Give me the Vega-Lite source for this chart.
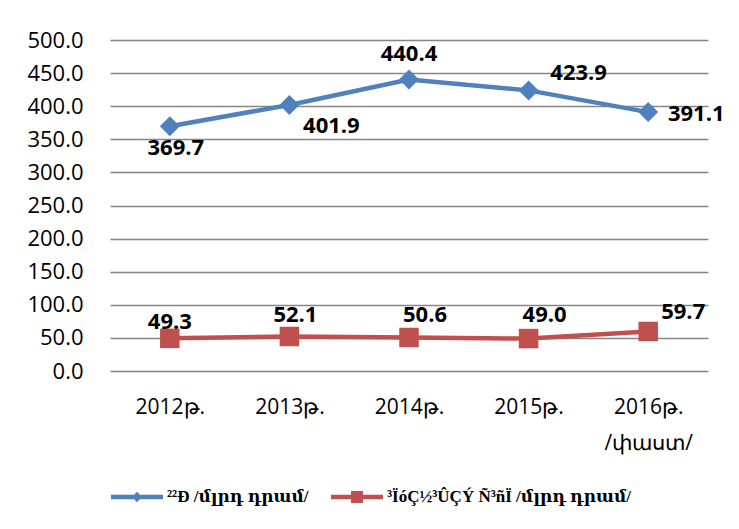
{
  "$schema": "https://vega.github.io/schema/vega-lite/v6.json",
  "width": 598,
  "height": 331,
  "autosize": "none",
  "padding": {"left": 110, "top": 40, "right": 31, "bottom": 158},
  "background": "white",
  "config": {
    "view": {"stroke": null},
    "font": "Open Sans"
  },
  "data": {
    "values": [
      {"year": "2012թ.", "series": "²²Ð /մլրդ դրամ/", "value": 369.7},
      {"year": "2013թ.", "series": "²²Ð /մլրդ դրամ/", "value": 401.9},
      {"year": "2014թ.", "series": "²²Ð /մլրդ դրամ/", "value": 440.4},
      {"year": "2015թ.", "series": "²²Ð /մլրդ դրամ/", "value": 423.9},
      {"year": "2016թ.|/փաստ/", "series": "²²Ð /մլրդ դրամ/", "value": 391.1},
      {"year": "2012թ.", "series": "³ÏóÇ½³ÛÇÝ Ñ³ñÏ /մլրդ դրամ/", "value": 49.3},
      {"year": "2013թ.", "series": "³ÏóÇ½³ÛÇÝ Ñ³ñÏ /մլրդ դրամ/", "value": 52.1},
      {"year": "2014թ.", "series": "³ÏóÇ½³ÛÇÝ Ñ³ñÏ /մլրդ դրամ/", "value": 50.6},
      {"year": "2015թ.", "series": "³ÏóÇ½³ÛÇÝ Ñ³ñÏ /մլրդ դրամ/", "value": 49.0},
      {"year": "2016թ.|/փաստ/", "series": "³ÏóÇ½³ÛÇÝ Ñ³ñÏ /մլրդ դրամ/", "value": 59.7}
    ]
  },
  "encoding": {
    "x": {
      "field": "year", "type": "nominal", "sort": null,
      "scale": {"paddingInner": 0, "paddingOuter": 0},
      "axis": {
        "title": null, "labelAngle": 0, "domain": false, "ticks": false,
        "labelPadding": 25, "labelFontSize": 21, "labelColor": "#000000",
        "labelFont": "Open Sans", "labelLineHeight": 36,
        "labelExpr": "split(datum.label, '|')"
      }
    },
    "y": {
      "field": "value", "type": "quantitative",
      "scale": {"domain": [0, 500], "nice": false},
      "axis": {
        "title": null, "values": [0, 50, 100, 150, 200, 250, 300, 350, 400, 450, 500],
        "format": ".1f", "domain": false, "ticks": false, "labelPadding": 27,
        "labelFontSize": 22, "labelColor": "#000000", "labelFont": "Open Sans",
        "gridColor": "#868686", "gridWidth": 1.5
      }
    }
  },
  "layer": [
    {
      "mark": {"type": "line", "strokeWidth": 4.5},
      "encoding": {
        "color": {
          "field": "series", "type": "nominal",
          "scale": {"domain": ["²²Ð /մլրդ դրամ/", "³ÏóÇ½³ÛÇÝ Ñ³ñÏ /մլրդ դրամ/"], "range": ["#4F81BD", "#C0504D"]},
          "legend": {
            "title": null, "orient": "none", "legendX": 1, "legendY": 431,
            "direction": "horizontal", "symbolSize": 2704, "symbolStrokeWidth": 0,
            "labelFont": "Liberation Serif, DejaVu Serif", "labelFontWeight": "bold", "labelFontSize": 17,
            "labelColor": "#000000", "labelOffset": 4, "columnPadding": 22, "labelLimit": 400,
            "encode": {
              "symbols": {
                "update": {
                  "shape": {"signal": "datum.value == '²²Ð /մլրդ դրամ/' ? 'M-1,-0.09H1V0.09H-1Z M0,-0.2L0.2,0L0,0.2L-0.2,0Z' : 'M-1,-0.09H1V0.09H-1Z M-0.23,-0.23H0.23V0.23H-0.23Z'"},
                  "fill": {"signal": "datum.value == '²²Ð /մլրդ դրամ/' ? '#4F81BD' : '#C0504D'"},
                  "strokeWidth": {"value": 0},
                  "opacity": {"value": 1}
                }
              }
            }
          }
        }
      }
    },
    {
      "transform": [{"filter": "datum.value > 200"}],
      "mark": {"type": "point", "filled": true, "opacity": 1, "size": 400, "shape": "diamond", "color": "#4F81BD"}
    },
    {
      "transform": [{"filter": "datum.value < 200"}],
      "mark": {"type": "point", "filled": true, "opacity": 1, "size": 380, "shape": "square", "color": "#C0504D"}
    },
    {
      "transform": [{"filter": "datum.year == '2012թ.' && datum.value > 200"}],
      "mark": {"type": "text", "font": "Open Sans", "fontWeight": "bold", "fontSize": 22, "dx": 6, "dy": 22, "color": "#000000"},
      "encoding": {"text": {"field": "value", "type": "quantitative", "format": ".1f"}}
    },
    {
      "transform": [{"filter": "datum.year == '2013թ.' && datum.value > 200"}],
      "mark": {"type": "text", "font": "Open Sans", "fontWeight": "bold", "fontSize": 22, "dx": 42, "dy": 21, "color": "#000000"},
      "encoding": {"text": {"field": "value", "type": "quantitative", "format": ".1f"}}
    },
    {
      "transform": [{"filter": "datum.year == '2014թ.' && datum.value > 200"}],
      "mark": {"type": "text", "font": "Open Sans", "fontWeight": "bold", "fontSize": 22, "dx": 0, "dy": -25, "color": "#000000"},
      "encoding": {"text": {"field": "value", "type": "quantitative", "format": ".1f"}}
    },
    {
      "transform": [{"filter": "datum.year == '2015թ.' && datum.value > 200"}],
      "mark": {"type": "text", "font": "Open Sans", "fontWeight": "bold", "fontSize": 22, "dx": 50, "dy": -17, "color": "#000000"},
      "encoding": {"text": {"field": "value", "type": "quantitative", "format": ".1f"}}
    },
    {
      "transform": [{"filter": "datum.year == '2016թ.|/փաստ/' && datum.value > 200"}],
      "mark": {"type": "text", "font": "Open Sans", "fontWeight": "bold", "fontSize": 22, "dx": 48, "dy": 2, "color": "#000000"},
      "encoding": {"text": {"field": "value", "type": "quantitative", "format": ".1f"}}
    },
    {
      "transform": [{"filter": "datum.year == '2012թ.' && datum.value < 200"}],
      "mark": {"type": "text", "font": "Open Sans", "fontWeight": "bold", "fontSize": 22, "dx": 0, "dy": -16, "color": "#000000"},
      "encoding": {"text": {"field": "value", "type": "quantitative", "format": ".1f"}}
    },
    {
      "transform": [{"filter": "datum.year == '2013թ.' && datum.value < 200"}],
      "mark": {"type": "text", "font": "Open Sans", "fontWeight": "bold", "fontSize": 22, "dx": 6, "dy": -22, "color": "#000000"},
      "encoding": {"text": {"field": "value", "type": "quantitative", "format": ".1f"}}
    },
    {
      "transform": [{"filter": "datum.year == '2014թ.' && datum.value < 200"}],
      "mark": {"type": "text", "font": "Open Sans", "fontWeight": "bold", "fontSize": 22, "dx": 16, "dy": -23, "color": "#000000"},
      "encoding": {"text": {"field": "value", "type": "quantitative", "format": ".1f"}}
    },
    {
      "transform": [{"filter": "datum.year == '2015թ.' && datum.value < 200"}],
      "mark": {"type": "text", "font": "Open Sans", "fontWeight": "bold", "fontSize": 22, "dx": 16, "dy": -24, "color": "#000000"},
      "encoding": {"text": {"field": "value", "type": "quantitative", "format": ".1f"}}
    },
    {
      "transform": [{"filter": "datum.year == '2016թ.|/փաստ/' && datum.value < 200"}],
      "mark": {"type": "text", "font": "Open Sans", "fontWeight": "bold", "fontSize": 22, "dx": 35, "dy": -19, "color": "#000000"},
      "encoding": {"text": {"field": "value", "type": "quantitative", "format": ".1f"}}
    }
  ]
}
